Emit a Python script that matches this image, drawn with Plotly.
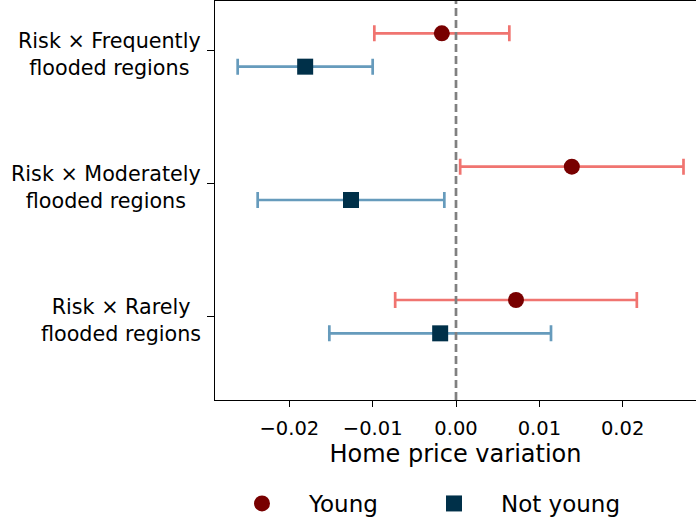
import plotly.graph_objects as go

# ---- data ----
categories = ["Risk × Frequently<br>flooded regions",
              "Risk × Moderately<br>flooded regions",
              "Risk × Rarely<br>flooded regions"]
cat_pos = [2, 1, 0]
young_coef = [-0.0017, 0.0139, 0.0072]
young_ci = [0.0081, 0.0134, 0.0145]
notyoung_coef = [-0.0181, -0.0126, -0.0019]
notyoung_ci = [0.0081, 0.0112, 0.0133]
x_ticks = [-0.02, -0.01, 0.0, 0.01, 0.02]
x_tick_labels = ["−0.02", "−0.01", "0.00", "0.01", "0.02"]
offset = 0.125

FONT = "DejaVu Sans"

fig = go.Figure()

fig.add_trace(go.Scatter(
    x=young_coef, y=[p + offset for p in cat_pos], mode="markers", name="Young",
    marker=dict(symbol="circle", size=16, color="#780000", line=dict(width=0)),
    error_x=dict(type="data", array=young_ci, visible=True, color="#F07470",
                 thickness=2.7, width=8),
    legend="legend",
))
fig.add_trace(go.Scatter(
    x=notyoung_coef, y=[p - offset for p in cat_pos], mode="markers", name="Not young",
    marker=dict(symbol="square", size=16, color="#003049", line=dict(width=0)),
    error_x=dict(type="data", array=notyoung_ci, visible=True, color="#669BBC",
                 thickness=2.7, width=8),
    legend="legend2",
))

fig.add_vline(x=0, line=dict(color="#808080", width=2.7, dash="8px,4px"), layer="above")

for lab, p in zip(categories, cat_pos):
    fig.add_annotation(x=0, xref="paper", y=p, yref="y", text=lab, showarrow=False,
                       xanchor="right", yanchor="middle", align="center", xshift=-12, yshift=-4,
                       font=dict(family=FONT, size=20.7, color="black"))

leg_common = dict(orientation="h", yanchor="middle", xanchor="left",
                  font=dict(family=FONT, size=23), itemwidth=84,
                  bgcolor="rgba(0,0,0,0)")

fig.update_layout(
    width=696, height=521,
    margin=dict(l=215, r=0, t=1, b=121, autoexpand=False),
    paper_bgcolor="white", plot_bgcolor="white",
    font=dict(family=FONT, color="black"),
    showlegend=True,
    legend=dict(x=0.0, y=-0.2594, **leg_common),
    legend2=dict(x=192 / 481, y=-0.2594, **leg_common),
    xaxis=dict(range=[-0.02892, 0.0288], tickvals=x_ticks, ticktext=x_tick_labels,
               showgrid=False, zeroline=False, showline=True, linecolor="black",
               linewidth=1.3, mirror=True, ticks="outside", ticklen=6, tickwidth=1.3,
               tickcolor="black", tickfont=dict(family=FONT, size=19.5),
               ticklabelstandoff=4, automargin=False,
               title=dict(text="Home price variation", font=dict(family=FONT, size=24),
                          standoff=2)),
    yaxis=dict(range=[-0.625, 2.3675], tickvals=cat_pos, ticktext=["", "", ""],
               showgrid=False, zeroline=False, showline=True, linecolor="black",
               linewidth=1.3, mirror=False, ticks="outside", ticklen=7, tickwidth=1.3,
               tickcolor="black", automargin=False),
)

fig.write_html("out.html", config={"displayModeBar": False},
               post_script="document.body.style.margin='0';")
